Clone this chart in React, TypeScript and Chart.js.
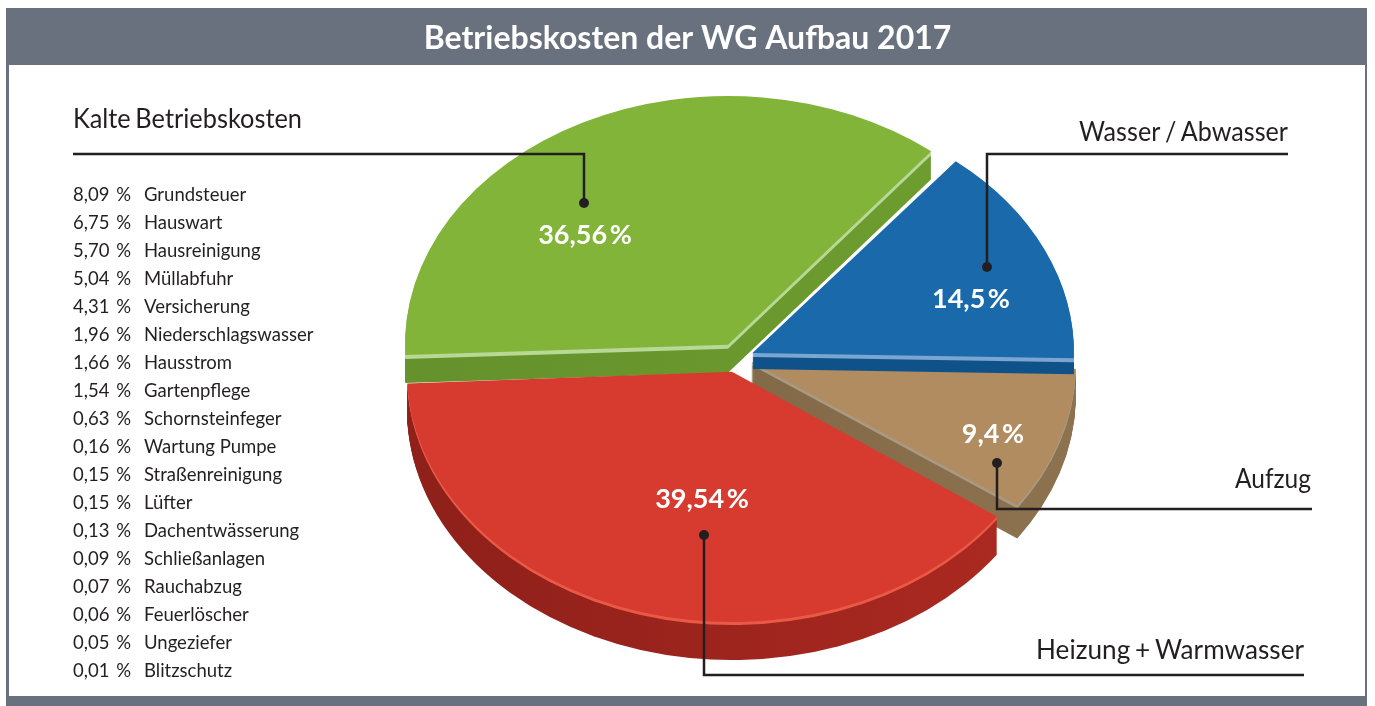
import React, { useEffect, useRef } from "react";
import { Chart, registerables } from "chart.js";

Chart.register(...registerables);

const chartTitle = "Betriebskosten der WG Aufbau 2017";
const groupNames = ["Kalte Betriebskosten", "Wasser / Abwasser", "Aufzug", "Heizung + Warmwasser"];
const groupShares = [36.56, 14.5, 9.4, 39.54];
const listShares = [8.09, 6.75, 5.7, 5.04, 4.31, 1.96, 1.66, 1.54, 0.63, 0.16, 0.15, 0.15, 0.13, 0.09, 0.07, 0.06, 0.05, 0.01];
const listNames = ["Grundsteuer", "Hauswart", "Hausreinigung", "Müllabfuhr", "Versicherung", "Niederschlagswasser", "Hausstrom", "Gartenpflege", "Schornsteinfeger", "Wartung Pumpe", "Straßenreinigung", "Lüfter", "Dachentwässerung", "Schließanlagen", "Rauchabzug", "Feuerlöscher", "Ungeziefer", "Blitzschutz"];

const topColors = ["#82b43a", "#1a69ab", "#b08c60", "#d73b2f"];
const rimColors = ["#b9d896", "#7ba6d0", "#a89a84", "#ea5a46"];
const wallLeft = ["#65922c", "#0f5289", "#7a6241", "#90201a"];
const wallRight = ["#70a030", "#0f5289", "#8f7450", "#b02b22"];
const depths = [28, 16, 33, 38];
const rimSizes = [4, 4, 3, 3];
const offsets = [80, 68, 60, 72];
const drawOrder = [0, 2, 1, 3];

const FONT = "Lato, 'Noto Sans', sans-serif";
const INK = "#231f20";
const FRAME = "#6a717e";
const PIE_X = 737;
const PIE_Y = 358.5;
const SQUASH = 0.77;

const calloutLines = [
  [[73, 154], [584, 154], [584, 203]],
  [[1288, 154], [987, 154], [987, 267]],
  [[1312, 509], [997, 509], [997, 463]],
  [[1304, 675], [704, 675], [704, 535]],
];
const calloutText = [
  { x: 73, y: 119, align: "left", width: 229 },
  { x: 1288, y: 132, align: "right", width: 209 },
  { x: 1311, y: 479, align: "right", width: 76 },
  { x: 1304, y: 650, align: "right", width: 268 },
];
const shareText = [[585, 235], [971, 299], [993, 434], [702, 499]];

const decimal = (v: number, digits?: number) =>
  (digits === undefined ? String(v) : v.toFixed(digits)).replace(".", ",");

const framePlugin = {
  id: "frame",
  beforeDraw(chart: any) {
    const { ctx, width, height } = chart;
    ctx.save();
    ctx.fillStyle = "#ffffff";
    ctx.fillRect(0, 0, width, height);
    ctx.fillStyle = FRAME;
    ctx.fillRect(6, 8, 1361, 57);
    ctx.fillRect(6, 65, 3, 640);
    ctx.fillRect(1365, 65, 2, 640);
    ctx.fillRect(6, 696, 1361, 10);
    ctx.restore();
  },
};

const piePlugin = {
  id: "slantedPie",
  beforeDatasetsDraw(chart: any) {
    const { ctx, chartArea } = chart;
    const arcs = chart.getDatasetMeta(0).data;
    const cx = (chartArea.left + chartArea.right) / 2;
    const cy = (chartArea.top + chartArea.bottom) / 2;
    drawOrder.forEach((i) => {
      const arc = arcs[i];
      const base = arc.options;
      const paint = (dy: number, color: any) => {
        ctx.save();
        ctx.translate(PIE_X - cx, PIE_Y + dy);
        ctx.scale(1, SQUASH);
        ctx.translate(0, -cy);
        arc.options = { ...base, backgroundColor: color, borderWidth: 0 };
        arc.draw(ctx);
        ctx.restore();
      };
      const g = ctx.createLinearGradient(405, 0, 1075, 0);
      g.addColorStop(0, wallLeft[i]);
      g.addColorStop(1, wallRight[i]);
      for (let dy = depths[i]; dy > rimSizes[i]; dy--) paint(dy, g);
      for (let dy = rimSizes[i]; dy > 0; dy--) paint(dy, rimColors[i]);
      paint(0, topColors[i]);
      arc.options = base;
    });
    return false;
  },
};

const notesPlugin = {
  id: "notes",
  afterDraw(chart: any) {
    const { ctx } = chart;
    ctx.save();
    ctx.textBaseline = "middle";

    ctx.fillStyle = INK;
    ctx.font = `27px ${FONT}`;
    ctx.wordSpacing = "-2px";
    groupNames.forEach((name, i) => {
      const t = calloutText[i];
      ctx.textAlign = t.align;
      ctx.fillText(name, t.x, t.y, t.width);
    });
    ctx.wordSpacing = "0px";

    ctx.font = `18.5px ${FONT}`;
    listNames.forEach((name, i) => {
      const y = 195 + i * 28;
      ctx.textAlign = "left";
      ctx.fillText(decimal(listShares[i], 2), 73, y);
      ctx.fillText(name, 144, y);
      ctx.textAlign = "right";
      ctx.fillText("%", 131, y);
    });

    ctx.fillStyle = "#ffffff";
    ctx.font = `bold 27px ${FONT}`;
    ctx.textAlign = "center";
    ctx.wordSpacing = "-4px";
    groupShares.forEach((v, i) => {
      ctx.fillText(`${decimal(v)} %`, shareText[i][0], shareText[i][1]);
    });
    ctx.wordSpacing = "0px";

    ctx.strokeStyle = INK;
    ctx.fillStyle = INK;
    ctx.lineWidth = 2.5;
    calloutLines.forEach((pts) => {
      ctx.beginPath();
      pts.forEach(([x, y], j) => (j ? ctx.lineTo(x, y) : ctx.moveTo(x, y)));
      ctx.stroke();
      const [dx, dy] = pts[pts.length - 1];
      ctx.beginPath();
      ctx.arc(dx, dy, 5, 0, Math.PI * 2);
      ctx.fill();
    });
    ctx.restore();
  },
};

export default function App() {
  const ref = useRef<HTMLCanvasElement>(null);
  useEffect(() => {
    const chart = new Chart(ref.current!, {
      type: "pie",
      data: {
        labels: groupNames,
        datasets: [{
          data: groupShares,
          backgroundColor: topColors,
          offset: offsets,
          borderWidth: 0,
        }],
      },
      options: {
        animation: false,
        responsive: false,
        rotation: -92.5,
        radius: 318,
        layout: { padding: 0 },
        plugins: {
          legend: { display: false },
          tooltip: { enabled: false },
          title: {
            display: true,
            text: chartTitle,
            color: "#ffffff",
            font: { family: FONT, size: 32, weight: "bold" },
            padding: { top: 19, bottom: 8 },
          },
        },
      },
      plugins: [framePlugin, piePlugin, notesPlugin],
    } as any);
    return () => chart.destroy();
  }, []);
  return (
    <div style={{ position: "fixed", left: 0, top: 0 }}>
      <canvas ref={ref} width={1375} height={706} style={{ display: "block" }} />
    </div>
  );
}
